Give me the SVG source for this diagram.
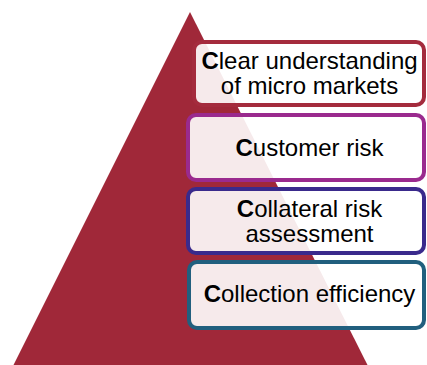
<svg xmlns="http://www.w3.org/2000/svg" width="427" height="365" viewBox="0 0 427 365">
<style>
.box{fill:#ffffff;fill-opacity:0.9;stroke-width:4}
.t{font-family:"Liberation Sans",Arial,sans-serif;font-size:24px;fill:#000;text-anchor:middle}
.b{font-weight:bold}
</style>
<rect width="427" height="365" fill="#ffffff"/>
<g id="pyramid">
<polygon points="190,12 13,366 368,366" fill="#A02839"/>
</g>
<g id="connectors"></g>
<g id="node1">
<rect class="box" x="194" y="42" width="230" height="63" rx="8" stroke="#A42B3D"/>
<text class="t" x="309.5" y="69"><tspan class="b">C</tspan>lear understanding</text>
<text class="t" x="309.5" y="94">of micro markets</text>
</g>
<g id="node2">
<rect class="box" x="188" y="115" width="236" height="65" rx="8" stroke="#9A2A8E"/>
<text class="t" x="309.5" y="155.5"><tspan class="b">C</tspan>ustomer risk</text>
</g>
<g id="node3">
<rect class="box" x="188" y="189" width="236" height="64" rx="8" stroke="#3A2A8C"/>
<text class="t" x="309.5" y="216.5"><tspan class="b">C</tspan>ollateral risk</text>
<text class="t" x="309.5" y="241.5">assessment</text>
</g>
<g id="node4">
<rect class="box" x="189" y="262" width="235" height="66" rx="8" stroke="#215F7E"/>
<text class="t" x="309.5" y="302"><tspan class="b">C</tspan>ollection efficiency</text>
</g>
</svg>
